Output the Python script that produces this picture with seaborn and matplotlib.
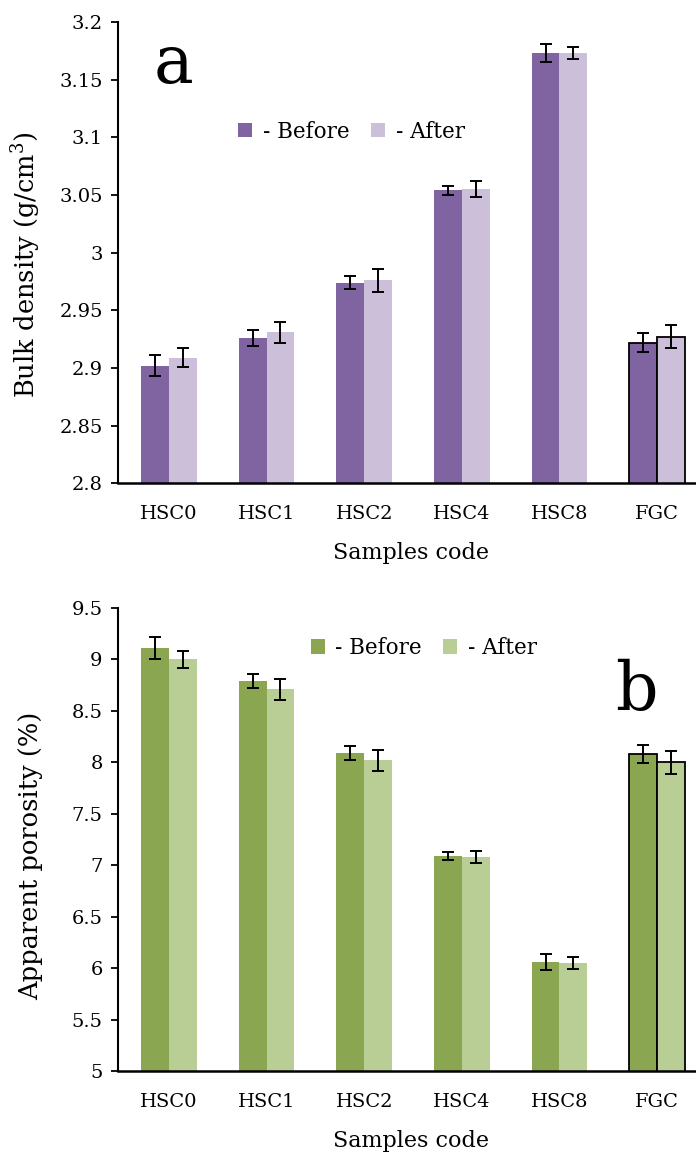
import pandas as pd
import matplotlib
matplotlib.use('Agg')
import matplotlib.pyplot as plt
from matplotlib.patches import Patch
import seaborn as sns

codes = ['HSC0', 'HSC1', 'HSC2', 'HSC4', 'HSC8', 'FGC']
stages = ['Before', 'After']

density_before = [2.902, 2.926, 2.974, 3.054, 3.173, 2.922]
density_after = [2.909, 2.931, 2.976, 3.055, 3.173, 2.927]
density_err_before = [0.009, 0.007, 0.006, 0.004, 0.008, 0.008]
density_err_after = [0.008, 0.009, 0.010, 0.007, 0.005, 0.010]

porosity_before = [9.11, 8.79, 8.09, 7.09, 6.06, 8.08]
porosity_after = [9.00, 8.71, 8.02, 7.08, 6.05, 8.00]
porosity_err_before = [0.11, 0.07, 0.07, 0.04, 0.08, 0.09]
porosity_err_after = [0.08, 0.10, 0.10, 0.06, 0.06, 0.11]

purple = ['#7f64a1', '#cbbfda']
green = ['#8aa651', '#b9ce95']

sns.set_style('white')
plt.rcParams['font.family'] = ['DejaVu Serif']
plt.rcParams['mathtext.fontset'] = 'dejavuserif'
plt.rcParams['text.color'] = 'black'
plt.rcParams['axes.labelcolor'] = 'black'
plt.rcParams['xtick.color'] = 'black'
plt.rcParams['ytick.color'] = 'black'


def make_df(before, after):
    return pd.DataFrame({
        'code': codes * 2,
        'stage': ['Before'] * len(codes) + ['After'] * len(codes),
        'value': list(before) + list(after),
    })


def draw_panel(ax, df, errs, colors, ylim, yticks, ylabel, label_y):
    sns.barplot(data=df, x='code', y='value', hue='stage', hue_order=stages,
                palette=colors, width=0.57, gap=0, errorbar=None,
                saturation=1, legend=False, linewidth=0, ax=ax)
    for cont, err in zip(ax.containers, errs):
        xs = [p.get_x() + p.get_width() / 2 for p in cont]
        ys = [p.get_height() for p in cont]
        ax.errorbar(xs, ys, yerr=err, fmt='none', ecolor='black',
                    elinewidth=1.4, capsize=4.5, capthick=1.4, zorder=5)
        # FGC bars are outlined in black
        cont[-1].set_edgecolor('black')
        cont[-1].set_linewidth(1.3)
    ax.set_ylim(*ylim)
    ax.set_xlim(-0.522, 5.48)
    ax.set_yticks(yticks)
    ax.set_yticklabels([f'{t:g}' for t in yticks])
    sns.despine(ax=ax)
    ax.spines['left'].set_linewidth(1.5)
    ax.spines['bottom'].set_linewidth(1.8)
    ax.spines['left'].set_color('black')
    ax.spines['bottom'].set_color('black')
    ax.tick_params(axis='y', left=True, length=5, width=1.3, labelsize=14, pad=6)
    ax.tick_params(axis='x', bottom=False, labelsize=14, pad=12)
    ax.set_xlabel('Samples code', fontsize=16, labelpad=14)
    ax.set_ylabel(ylabel, fontsize=18.5)
    ax.yaxis.set_label_coords(-0.128, label_y)


fig = plt.figure(figsize=(6.96, 11.56), dpi=100)
ax1 = fig.add_axes([0.1695, 0.582, 0.842, 0.399])
ax2 = fig.add_axes([0.1695, 0.0735, 0.842, 0.4005])

draw_panel(ax1, make_df(density_before, density_after),
           [density_err_before, density_err_after], purple,
           (2.8, 3.2), [2.8, 2.85, 2.9, 2.95, 3.0, 3.05, 3.1, 3.15, 3.2],
           'Bulk density (g/cm$^3$)', 0.473)
draw_panel(ax2, make_df(porosity_before, porosity_after),
           [porosity_err_before, porosity_err_after], green,
           (5, 9.5), [5, 5.5, 6, 6.5, 7, 7.5, 8, 8.5, 9, 9.5],
           'Apparent porosity (%)', 0.464)

ax1.text(0.094, 0.868, 'a', transform=ax1.transAxes, fontsize=48,
         ha='center', va='baseline')
ax2.text(0.884, 0.78, 'b', transform=ax2.transAxes, fontsize=48,
         ha='center', va='baseline')

for ax, colors, pos in [(ax1, purple, (0.505, 0.886)), (ax2, green, (0.609, 0.4394))]:
    handles = [Patch(facecolor=c, edgecolor='none') for c in colors]
    fig.legend(handles, ['- Before', '- After'], loc='center',
               bbox_to_anchor=pos, ncol=2, frameon=False, fontsize=15.5,
               handlelength=0.65, handleheight=0.65, handletextpad=0.5,
               columnspacing=1.0)

fig.savefig('out.png', dpi=100)
